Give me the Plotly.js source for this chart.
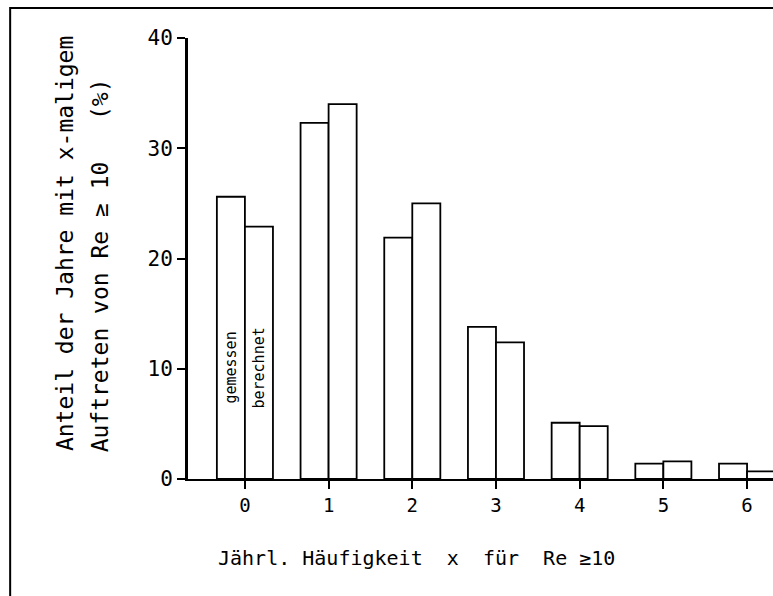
<!DOCTYPE html>
<html>
<head>
<meta charset="utf-8">
<script src="https://cdn.plot.ly/plotly-3.0.1.min.js"></script>
<style>html,body{margin:0;padding:0;background:#fff;}#chart{width:773px;height:596px;}</style>
</head>
<body>
<div id="chart"></div>
<script>
const categories = [0, 1, 2, 3, 4, 5, 6];
const gemessen = [25.6, 32.3, 21.9, 13.8, 5.1, 1.4, 1.4];
const berechnet = [22.9, 34.0, 25.0, 12.4, 4.8, 1.6, 0.7];
const yTicks = [0, 10, 20, 30, 40];
const xTitle = "Jährl. Häufigkeit  x  für  Re ≥10";
const yTitle1 = "Anteil der Jahre mit x-maligem";
const yTitle2 = "Auftreten von Re ≥ 10   (%)";
const barLabels = ["gemessen", "berechnet"];

const FONT = "DejaVu Sans Mono, monospace";
const barStyle = {color: "#ffffff", line: {color: "#000000", width: 1.8}};

const traces = [
  {type: "bar", x: categories, y: gemessen, name: barLabels[0], marker: barStyle},
  {type: "bar", x: categories, y: berechnet, name: barLabels[1], marker: barStyle}
];

const layout = {
  width: 773, height: 596,
  margin: {l: 188, r: 0, t: 38, b: 117},
  paper_bgcolor: "#ffffff", plot_bgcolor: "#ffffff",
  showlegend: false,
  barmode: "group", bargap: 0.33, bargroupgap: 0,
  font: {family: FONT, color: "#000000"},
  xaxis: {
    range: [-0.68, 6.31], tickvals: categories, ticktext: categories.map(String),
    showgrid: false, zeroline: false, showline: true, linecolor: "#000", linewidth: 2,
    ticks: "outside", ticklen: 8, tickwidth: 2, tickcolor: "#000",
    tickfont: {family: FONT, size: 19}
  },
  yaxis: {
    range: [0, 40], tickvals: yTicks, ticktext: yTicks.map(String),
    showgrid: false, zeroline: false, showline: true, linecolor: "#000", linewidth: 3,
    ticks: "outside", ticklen: 8, tickwidth: 2, tickcolor: "#000",
    tickfont: {family: FONT, size: 21}
  },
  annotations: [
    {xref: "x", yref: "y", x: -0.167, y: 10.1, text: barLabels[0], textangle: -90, showarrow: false, xanchor: "center", yanchor: "middle", font: {family: FONT, size: 15}},
    {xref: "x", yref: "y", x: 0.167, y: 10.1, text: barLabels[1], textangle: -90, showarrow: false, xanchor: "center", yanchor: "middle", font: {family: FONT, size: 15}},
    {xref: "paper", yref: "paper", x: -0.21, y: 0.533, text: yTitle1, textangle: -90, showarrow: false, xanchor: "center", yanchor: "middle", font: {family: FONT, size: 23}},
    {xref: "paper", yref: "paper", x: -0.15, y: 0.485, text: yTitle2, textangle: -90, showarrow: false, xanchor: "center", yanchor: "middle", font: {family: FONT, size: 23}},
    {xref: "paper", yref: "paper", x: 0.391, y: -0.179, text: xTitle, showarrow: false, xanchor: "center", yanchor: "middle", font: {family: FONT, size: 20}}
  ],
  shapes: [
    {type: "rect", xref: "paper", yref: "paper", x0: -0.304, x1: 1.2, y0: -0.5, y1: 1.068, line: {color: "#000", width: 2}, fillcolor: "rgba(0,0,0,0)", layer: "above"}
  ]
};

Plotly.newPlot("chart", traces, layout, {staticPlot: true});
</script>
</body>
</html>
